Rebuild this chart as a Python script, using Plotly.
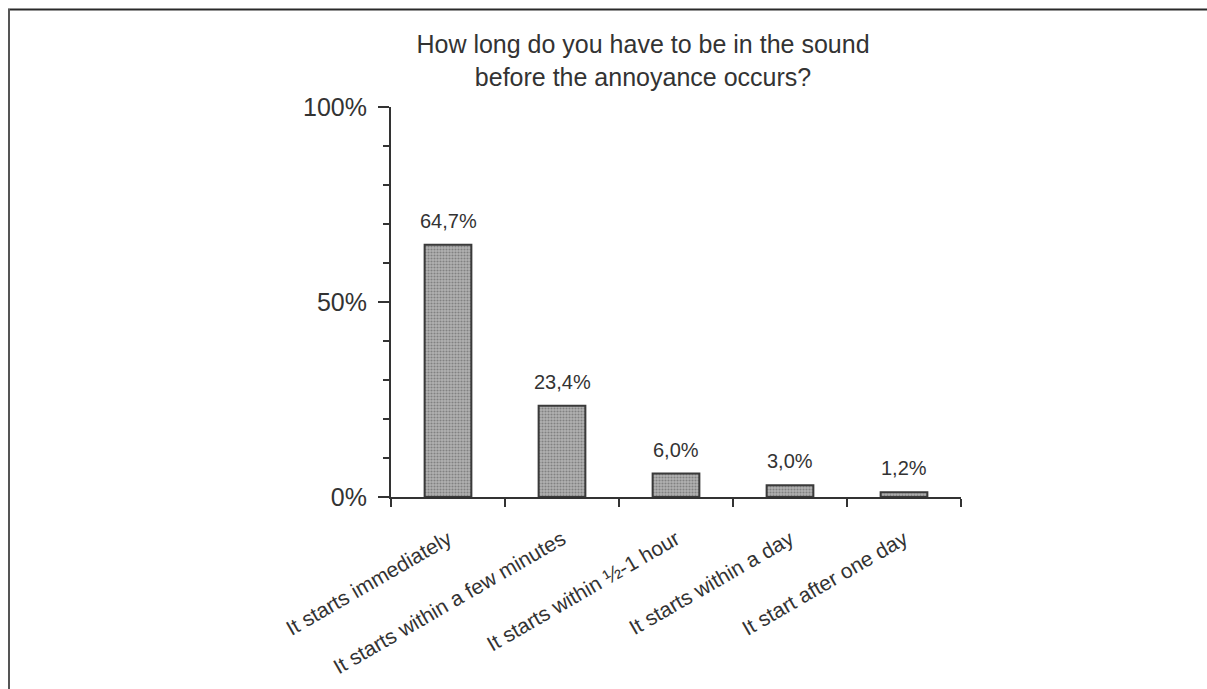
import plotly.graph_objects as go

# Survey answers and their shares (percent)
categories = [
    "It starts immediately",
    "It starts within a few minutes",
    "It starts within ½-1 hour",
    "It starts within a day",
    "It start after one day",
]
shares = [64.7, 23.4, 6.0, 3.0, 1.2]
y_tick_values = [0, 50, 100]
y_tick_labels = ["0%", "50%", "100%"]

FONT = "Liberation Sans, Arial, sans-serif"
INK = "#333333"

W, H = 1207, 689
ML, MR, MT, MB = 391, 246, 107, 192

fig = go.Figure(
    go.Bar(
        x=categories,
        y=shares,
        width=0.41,
        marker=dict(
            color="#a4a4a4",
            line=dict(color="#3a3a3a", width=2),
            pattern=dict(shape=".", fgcolor="#505050", bgcolor="#b2b2b2",
                         size=3, solidity=0.4),
        ),
        hoverinfo="skip",
    )
)

# value labels above each bar, decimal comma
for cat, v in zip(categories, shares):
    fig.add_annotation(
        x=cat, y=v, xref="x", yref="y",
        text=f"{v:.1f}".replace(".", ",") + "%",
        showarrow=False, yanchor="bottom", yshift=11,
        font=dict(family=FONT, size=20, color=INK),
    )

# frame lines along the top and left edge of the page
px2x = lambda p: (p - ML) / (W - ML - MR)
px2y = lambda p: (H - MB - p) / (H - MT - MB)
fig.add_shape(type="line", xref="paper", yref="paper",
              x0=px2x(8), x1=px2x(W), y0=px2y(9.5), y1=px2y(9.5),
              line=dict(color="#2a2a2a", width=2))
fig.add_shape(type="line", xref="paper", yref="paper",
              x0=px2x(9), x1=px2x(9), y0=px2y(9), y1=px2y(H),
              line=dict(color="#555555", width=2))

fig.update_layout(
    width=W,
    height=H,
    margin=dict(l=ML, r=MR, t=MT, b=MB, autoexpand=False),
    paper_bgcolor="white",
    plot_bgcolor="white",
    showlegend=False,
    font=dict(family=FONT, color=INK),
    title=dict(
        text="How long do you have to be in the sound<br>before the annoyance occurs?",
        x=643 / W,
        xanchor="center",
        y=1 - 53 / H,
        yanchor="top",
        xref="container",
        yref="container",
        font=dict(family=FONT, size=25, color=INK),
    ),
    xaxis=dict(
        type="category",
        range=[-0.5, 4.5],
        automargin=False,
        showline=True,
        linecolor=INK,
        linewidth=2,
        ticks="outside",
        tickson="boundaries",
        ticklen=8,
        tickwidth=2,
        tickcolor=INK,
        tickangle=-30,
        ticklabelstandoff=20,
        tickfont=dict(family=FONT, size=21, color=INK),
        showgrid=False,
        zeroline=False,
    ),
    yaxis=dict(
        range=[0, 100],
        automargin=False,
        tickmode="array",
        tickvals=y_tick_values,
        ticktext=y_tick_labels,
        showline=True,
        linecolor=INK,
        linewidth=2,
        ticks="outside",
        ticklen=11,
        tickwidth=2,
        tickcolor=INK,
        ticklabelstandoff=6,
        tickfont=dict(family=FONT, size=25, color=INK),
        minor=dict(dtick=10, ticks="outside", ticklen=6, tickwidth=1.5,
                   tickcolor=INK, showgrid=False),
        showgrid=False,
        zeroline=False,
    ),
)

fig.write_html("out.html")
